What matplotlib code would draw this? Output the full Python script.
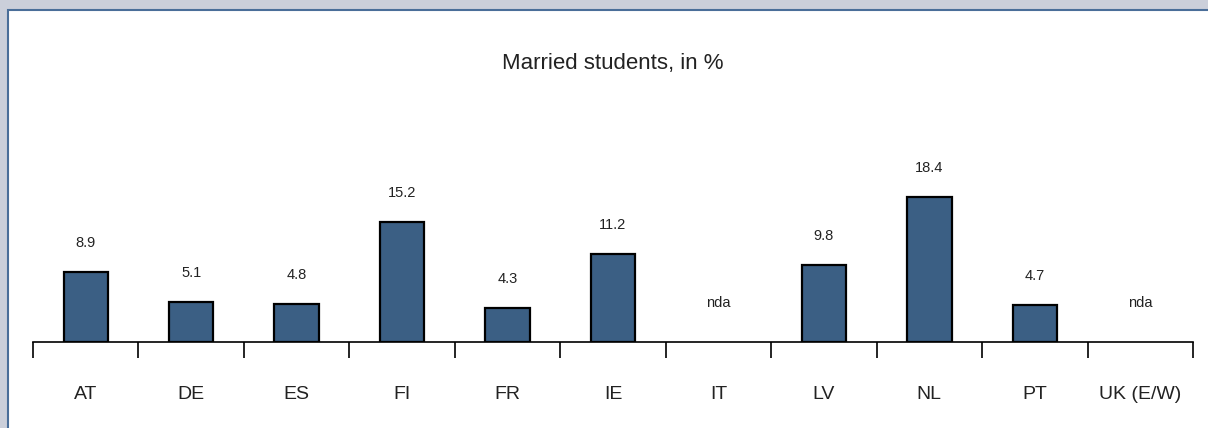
import numpy as np
import matplotlib
matplotlib.use('Agg')
import matplotlib.pyplot as plt
from matplotlib.patches import Rectangle

countries = ['AT', 'DE', 'ES', 'FI', 'FR', 'IE', 'IT', 'LV', 'NL', 'PT', 'UK (E/W)']
married = [8.9, 5.1, 4.8, 15.2, 4.3, 11.2, None, 9.8, 18.4, 4.7, None]
title = 'Married students, in %'

plt.rcParams['font.family'] = ['Liberation Sans Narrow', 'Liberation Sans', 'DejaVu Sans']

W, H = 1208, 428
fig = plt.figure(figsize=(W / 100, H / 100), dpi=100)
fig.patch.set_facecolor('#cbcfda')

# white panel with blue frame (runs off the right and bottom edges)
panel = Rectangle((8 / W, -0.2), 1.2, (H - 10) / H + 0.2, transform=fig.transFigure,
                  facecolor='white', edgecolor='#4a6e99', linewidth=1.5, zorder=-5)
fig.patches.append(panel)

ax = fig.add_axes([33 / W, (H - 342) / H, 1160 / W, 236 / H])
ax.patch.set_alpha(0)

x = np.arange(len(countries))
has = [i for i, v in enumerate(married) if v is not None]
ax.bar([x[i] for i in has], [married[i] for i in has], width=0.42,
       color='#3b5f84', edgecolor='black', linewidth=1.6, zorder=3)

for xi, v in zip(x, married):
    if v is None:
        ax.annotate('nda', (xi, 0), xytext=(0, 28), textcoords='offset points',
                    ha='center', va='center', fontsize=10.5, color='#222222')
    else:
        ax.annotate(f'{v:.1f}', (xi, v), xytext=(0, 21), textcoords='offset points',
                    ha='center', va='center', fontsize=10.5, color='#222222')

ax.set_xlim(-0.5, len(countries) - 0.5)
ax.set_ylim(0, 30)
for s in ['top', 'right', 'left']:
    ax.spines[s].set_visible(False)
ax.spines['bottom'].set_linewidth(1.2)
ax.set_yticks([])

ax.set_xticks(x)
ax.set_xticklabels(countries, fontsize=14, color='#222222')
ax.tick_params(axis='x', which='major', length=0, pad=32)
ax.set_xticks(np.arange(-0.5, len(countries)), minor=True)
ax.tick_params(axis='x', which='minor', length=11.5, width=1.2, direction='out')

fig.text(613 / W, 1 - 63 / H, title, ha='center', va='center', fontsize=16, color='#222222')

fig.savefig('out.png', dpi=100, facecolor=fig.get_facecolor())
